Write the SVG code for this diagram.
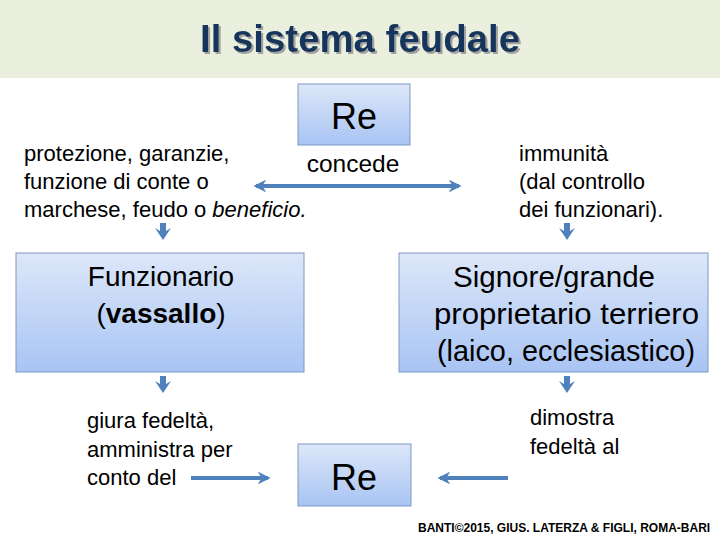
<svg xmlns="http://www.w3.org/2000/svg" width="720" height="540" viewBox="0 0 720 540">
<defs>
<linearGradient id="boxg" x1="0" y1="0" x2="0" y2="1">
<stop offset="0" stop-color="#DDE7F8"/>
<stop offset="1" stop-color="#A8C4F4"/>
</linearGradient>
<filter id="sh" x="-5%" y="-20%" width="110%" height="140%">
<feDropShadow dx="2" dy="2" stdDeviation="0.6" flood-color="#9A9A9A" flood-opacity="0.9"/>
</filter>
<marker id="ah" viewBox="0 0 10 10" refX="8" refY="5" markerWidth="3.2" markerHeight="3.2" orient="auto-start-reverse">
<path d="M0,0 L10,5 L0,10 L3,5 Z" fill="#4F81BD"/>
</marker>
<path id="dn" d="M-3,0 H3 V8 L8,5 L0,17 L-8,5 L-3,8 Z" fill="#4F81BD"/>
</defs>
<style>
.t{font-family:"Liberation Sans",Arial,sans-serif;fill:#000;}
.s{font-size:22px;}
.box{fill:url(#boxg);stroke:#7C99C4;stroke-width:1;}
.ln{stroke:#4F81BD;stroke-width:4;fill:none;}
</style>
<rect x="0" y="0" width="720" height="78" fill="#EBEFDE"/>
<text x="360" y="52" text-anchor="middle" textLength="320" lengthAdjust="spacingAndGlyphs" font-family="Liberation Sans,Arial,sans-serif" font-weight="bold" font-size="38" fill="#17365D" filter="url(#sh)">Il sistema feudale</text>

<g id="re-top">
<rect class="box" x="298" y="84" width="112" height="61"/>
<text class="t" x="354" y="129" text-anchor="middle" font-size="36">Re</text>
</g>
<g id="concede">
<text class="t" x="353" y="172" text-anchor="middle" font-size="24.5">concede</text>
</g>
<g id="left-text">
<text class="t s" x="24" y="161">protezione, garanzie,</text>
<text class="t s" x="24" y="189">funzione di conte o</text>
<text class="t s" x="24" y="217">marchese, feudo o <tspan font-style="italic">beneficio.</tspan></text>
</g>
<g id="right-text">
<text class="t s" x="519" y="161">immunità</text>
<text class="t s" x="519" y="189">(dal controllo</text>
<text class="t s" x="519" y="217">dei funzionari).</text>
</g>
<g id="funzionario">
<rect class="box" x="16" y="253" width="288" height="119"/>
<text class="t" font-size="28" x="161" y="286" text-anchor="middle">Funzionario</text>
<text class="t" font-size="28" x="161" y="323" text-anchor="middle">(<tspan font-weight="bold">vassallo</tspan>)</text>
</g>
<g id="signore">
<rect class="box" x="399" y="253" width="309" height="119"/>
<text class="t" font-size="30" x="453" y="287" textLength="202" lengthAdjust="spacingAndGlyphs">Signore/grande</text>
<text class="t" font-size="30" x="434" y="324" textLength="265" lengthAdjust="spacingAndGlyphs">proprietario terriero</text>
<text class="t" font-size="30" x="437" y="361" textLength="258" lengthAdjust="spacingAndGlyphs">(laico, ecclesiastico)</text>
</g>
<g id="left-bottom-text">
<text class="t s" x="87" y="428">giura fedeltà,</text>
<text class="t s" x="87" y="457">amministra per</text>
<text class="t s" x="87" y="485">conto del</text>
</g>
<g id="right-bottom-text">
<text class="t s" x="530" y="425">dimostra</text>
<text class="t s" x="530" y="454">fedeltà al</text>
</g>
<g id="re-bottom">
<rect class="box" x="298" y="444" width="113" height="62"/>
<text class="t" x="354" y="490" text-anchor="middle" font-size="36">Re</text>
</g>
<g id="connectors">
<line class="ln" x1="256" y1="186" x2="459" y2="186" marker-start="url(#ah)" marker-end="url(#ah)"/>
<line class="ln" x1="191" y1="478" x2="268" y2="478" marker-end="url(#ah)"/>
<line class="ln" x1="508" y1="478" x2="440" y2="478" marker-end="url(#ah)"/>
<use href="#dn" x="163" y="223"/>
<use href="#dn" x="567" y="223"/>
<use href="#dn" x="163" y="376"/>
<use href="#dn" x="567" y="376"/>
</g>
<text x="418" y="532" font-family="Liberation Sans,Arial,sans-serif" font-weight="bold" font-size="12" fill="#000">BANTI©2015, GIUS. LATERZA &amp; FIGLI, ROMA-BARI</text>
</svg>
